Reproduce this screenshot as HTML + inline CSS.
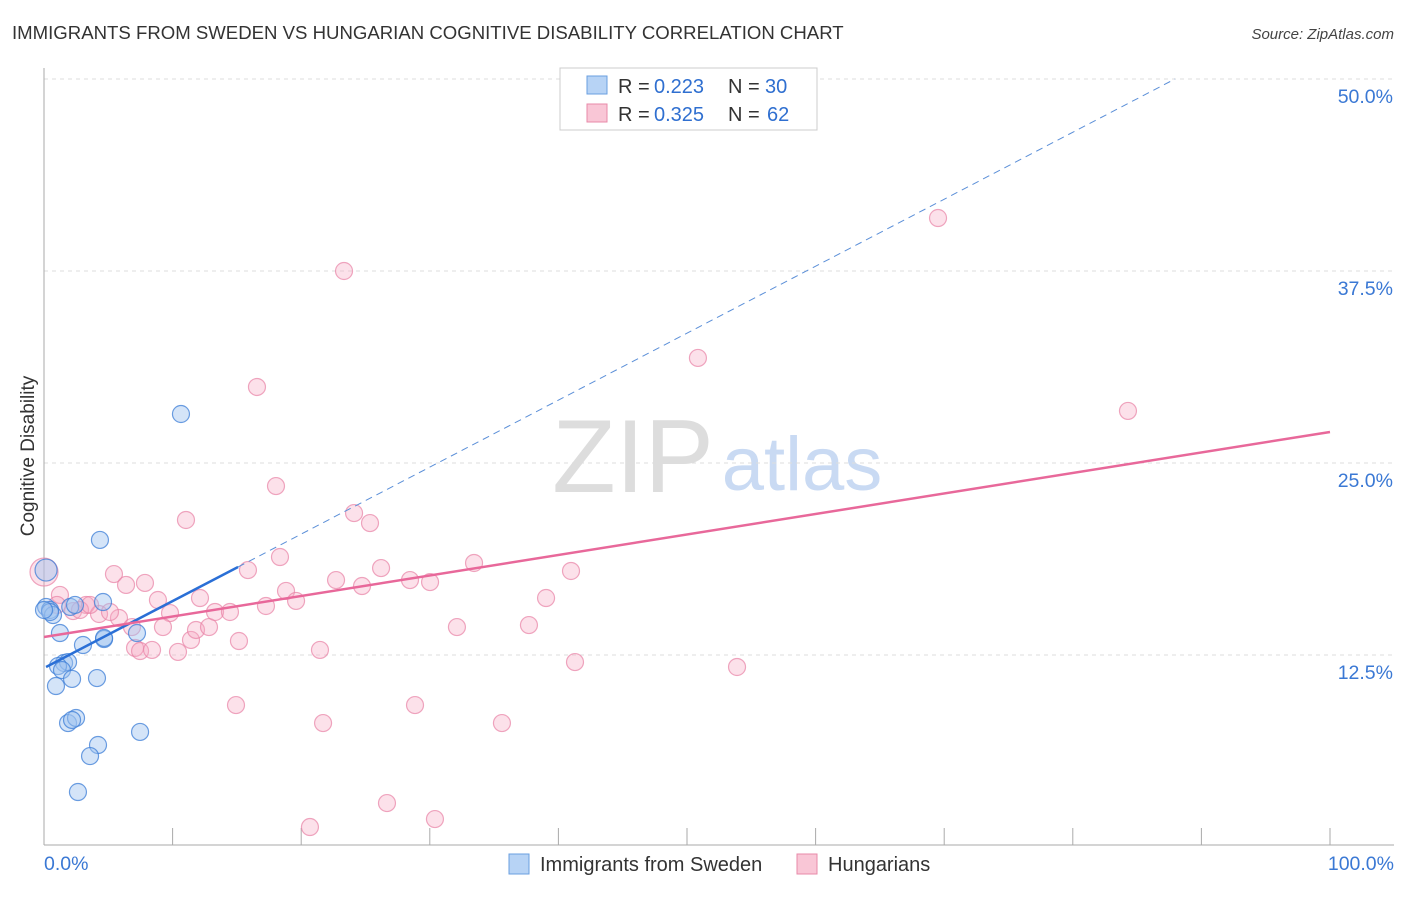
<!DOCTYPE html>
<html><head><meta charset="utf-8"><style>
body{margin:0;background:#fff;font-family:"Liberation Sans",sans-serif}
svg text{font-family:"Liberation Sans",sans-serif}
</style></head><body>
<svg id="chart" width="1406" height="892" xmlns="http://www.w3.org/2000/svg">
<text x="12" y="39" font-size="18.6" fill="#333">IMMIGRANTS FROM SWEDEN VS HUNGARIAN COGNITIVE DISABILITY CORRELATION CHART</text>
<text x="1394" y="39" font-size="15" fill="#444" text-anchor="end" font-style="italic">Source: ZipAtlas.com</text>
<g>
<text x="633" y="492" font-size="104" fill="#ddd" text-anchor="middle" font-family="Liberation Serif">ZIP</text>
<text x="802" y="490" font-size="76" fill="#c9daf3" text-anchor="middle">atlas</text>
</g>
<g id="grid"></g>
<g id="axes"></g>
<g id="marks"></g>
<text transform="translate(34,456) rotate(-90)" font-size="19" fill="#333" text-anchor="middle">Cognitive Disability</text>
<g>
<rect x="560" y="68" width="257" height="62" fill="#fff" stroke="#ccc"/>
<rect x="587" y="76" width="20" height="18" fill="#b7d3f5" stroke="#6a9fe0"/>
<text x="618" y="93" font-size="20" fill="#333">R =</text>
<text x="654" y="93" font-size="20" fill="#2f6fd0">0.223</text>
<text x="728" y="93" font-size="20" fill="#333">N =</text>
<text x="765" y="93" font-size="20" fill="#2f6fd0">30</text>
<rect x="587" y="104" width="20" height="18" fill="#f9c6d6" stroke="#e88aa8"/>
<text x="618" y="121" font-size="20" fill="#333">R =</text>
<text x="654" y="121" font-size="20" fill="#2f6fd0">0.325</text>
<text x="728" y="121" font-size="20" fill="#333">N =</text>
<text x="767" y="121" font-size="20" fill="#2f6fd0">62</text>
</g>
<g>
<rect x="509" y="854" width="20" height="20" fill="#b7d3f5" stroke="#6a9fe0"/>
<text x="540" y="871" font-size="20" fill="#333">Immigrants from Sweden</text>
<rect x="797" y="854" width="20" height="20" fill="#f9c6d6" stroke="#e88aa8"/>
<text x="828" y="871" font-size="20" fill="#333">Hungarians</text>
</g>
</svg>
<script>
const yTicks=[12.5,25.0,37.5,50.0];
const yTickLabels=["12.5%","25.0%","37.5%","50.0%"];
const xTickLabels=["0.0%","100.0%"];
const swedenX=[0.16,0.16,0.47,0.70,1.24,4.59,2.04,2.41,1.56,1.87,1.09,1.40,2.18,0.93,4.12,3.03,4.67,7.23,4.35,10.65,1.87,2.49,2.18,4.20,3.58,7.47,2.64,0.47,0.0,4.67];
const swedenY=[18.03,15.63,15.43,15.10,13.93,15.95,15.63,15.76,11.98,12.04,11.78,11.52,10.94,10.48,11.00,13.15,13.54,13.93,19.99,28.19,8.07,8.40,8.27,6.64,5.92,7.49,3.58,15.30,15.43,13.61];
const hungX=[0.0,1.24,1.01,2.26,3.27,2.80,4.28,5.44,6.38,5.83,6.84,7.85,8.86,9.80,9.25,7.08,7.47,8.40,10.42,11.43,11.82,12.83,12.13,11.04,13.30,14.46,15.16,16.56,17.26,18.04,18.35,18.82,19.60,15.86,14.93,21.46,21.70,22.71,23.33,24.11,24.73,25.35,26.21,28.46,30.02,28.85,26.67,20.68,30.40,32.11,33.44,35.61,37.71,39.04,40.98,41.29,50.85,53.89,69.52,84.29,3.58,5.13];
const hungY=[17.90,16.41,15.76,15.36,15.76,15.43,15.17,17.77,17.06,14.91,14.32,17.19,16.08,15.23,14.32,12.96,12.76,12.83,12.70,13.48,14.13,14.32,16.21,21.29,15.30,15.30,13.41,29.95,15.69,23.50,18.88,16.67,16.02,18.03,9.24,12.83,8.07,17.38,37.50,21.74,16.99,21.09,18.16,17.38,17.25,9.24,2.86,1.30,1.82,14.32,18.49,8.07,14.45,16.21,17.97,12.04,31.84,11.72,40.95,28.39,15.76,15.30];
const swedenTrend=[11.65,18.23,15.09];
const hungTrend=[13.67,27.02];
const L=44,R=1330,B=847,T=79;
const sx=v=>L+(R-L)*v/100, sy=v=>B-(B-T)*v/50;
const NS="http://www.w3.org/2000/svg";
function mk(p,t,a){const e=document.createElementNS(NS,t);for(const k in a)e.setAttribute(k,a[k]);p.appendChild(e);return e;}
const grid=document.getElementById('grid'),axes=document.getElementById('axes'),marks=document.getElementById('marks');
yTicks.forEach((v,i)=>{
 const g=mk(grid,'line',{x1:L,x2:1394,y1:sy(v),y2:sy(v),stroke:'#ddd','stroke-dasharray':'4,4'});
 
 
 const t=mk(axes,'text',{x:1393,y:sy(v)+24,'font-size':19.5,fill:'#3a78d4','text-anchor':'end'});
 t.textContent=yTickLabels[i];
 
 
});
const ax=mk(axes,'line',{x1:L,x2:L,y1:68,y2:845,stroke:'#aaa'});


const bx=mk(axes,'line',{x1:L,x2:1394,y1:845,y2:845,stroke:'#aaa'});


for(let i=0;i<=10;i++){const tk=mk(axes,'line',{x1:L+i*128.6,x2:L+i*128.6,y1:828,y2:845,stroke:'#aaa'});
 
 }
[[0,'start',44],[1,'end',1394]].forEach(([i,a,x])=>{const t=mk(axes,'text',{x:x,y:870,'font-size':19.5,fill:'#3a78d4','text-anchor':a});t.textContent=xTickLabels[i];
 
 });
hungX.forEach((x,i)=>{const c=mk(marks,'circle',{cx:sx(x),cy:sy(hungY[i]),r:i==0?14:8.5,fill:'rgba(246,170,195,0.35)',stroke:'rgba(232,130,165,0.7)','stroke-width':1.2});
 
 });
swedenX.forEach((x,i)=>{const c=mk(marks,'circle',{cx:sx(x),cy:sy(swedenY[i]),r:i==0?11:8.5,fill:'rgba(160,195,240,0.45)',stroke:'rgba(60,125,215,0.75)','stroke-width':1.2});
 
 });
const slope=(swedenTrend[1]-swedenTrend[0])/swedenTrend[2];
const xEnd=(50-swedenTrend[0])/slope;
const d=mk(marks,'line',{x1:sx(swedenTrend[2]),y1:sy(swedenTrend[1]),x2:sx(xEnd),y2:sy(50),stroke:'#5b8fd8','stroke-width':1,'stroke-dasharray':'7,5'});


const s=mk(marks,'line',{x1:sx(0.16),y1:sy(swedenTrend[0]+slope*0.16),x2:sx(swedenTrend[2]),y2:sy(swedenTrend[1]),stroke:'#2a6fd6','stroke-width':2.5});


const h=mk(marks,'line',{x1:sx(0),y1:sy(hungTrend[0]),x2:sx(100),y2:sy(hungTrend[1]),stroke:'#e8689a','stroke-width':2.5});


</script>
</body></html>
